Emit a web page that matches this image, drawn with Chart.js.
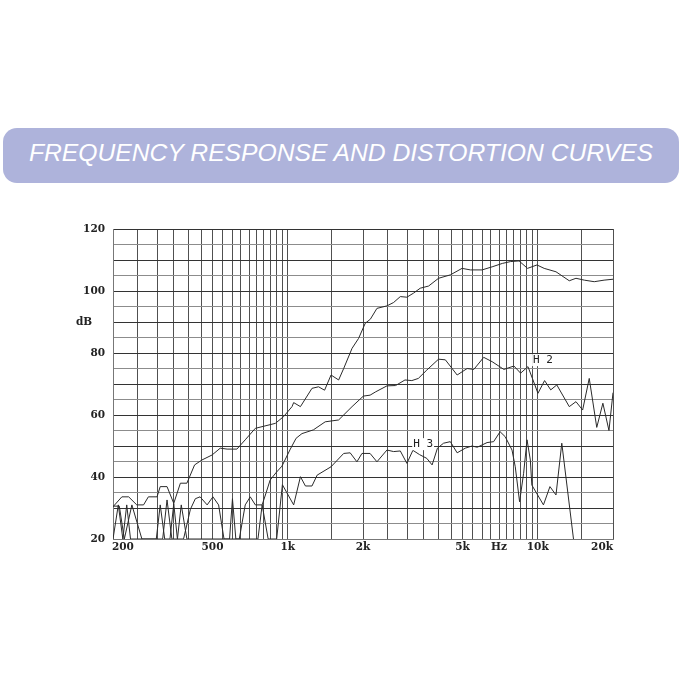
<!DOCTYPE html>
<html>
<head>
<meta charset="utf-8">
<script src="https://cdn.jsdelivr.net/npm/chart.js@4.4.0/dist/chart.umd.min.js"></script>
<style>
  html, body { margin: 0; padding: 0; background: #fff; }
  #wrap { position: relative; width: 682px; height: 682px; overflow: hidden; }
  #banner {
    position: absolute; left: 3px; top: 128px; width: 676px; height: 55px;
    background: #aeb3db; border-radius: 14px;
    color: #fff; font-family: "Liberation Sans", Arial, sans-serif; font-style: italic;
    font-size: 24.7px; line-height: 50px; text-align: center; white-space: nowrap;
  }
  canvas { position: absolute; left: 0; top: 0; }
</style>
</head>
<body>
<div id="wrap">
  <canvas id="c" width="682" height="682"></canvas>
  <div id="banner">FREQUENCY RESPONSE AND DISTORTION CURVES</div>
</div>
<script>
// ---- data ----
const frFreq = [200,217,231,249,265,277,300,309,329,350,372,395,424,454,498,537,572,626,676,742,892,963,1040,1056,1124,1250,1328,1404,1490,1598,1674,1808,1920,2042,2140,2274,2494,2652,2820,2996,3184,3388,3660,4010,4470,4980,5380,5990,6570,7220,7790,8420,9100,9930,10610,11830,13370,14220,15360,16830,18420,20000];
const frDb   = [30.4,33.6,33.6,31,31,33.6,33.6,36.9,36.9,31.5,38,38,43.9,45.5,47.1,49.3,49,49,52,55.7,57.3,59.5,62.7,64,62.7,68.6,69.1,68,72.9,71.3,75,81.5,84.7,89.6,90.9,94.4,95.2,96.3,98.2,98,99.3,100.9,101.6,104.1,105.2,107.3,106.8,106.8,107.8,108.9,109.5,109.7,107.3,108.4,107.3,106.2,103.3,104.1,103.5,103,103.5,103.8];

const h2Freq = [200,212,222,238,261,298,309,322,338,350,362,383,408,427,446,476,502,529,556,760,790,820,850,900,948,1024,1080,1140,1266,1412,1598,1808,2007,2135,2250,2494,2700,2944,3136,3330,3600,4010,4270,4760,5220,5550,6080,6570,7320,8030,8540,9140,9520,10020,10650,11270,11920,13370,14220,15120,16070,17220,18220,19270,20000];
const h2Db   = [30.6,30.6,20,31,20,20,31,20,20,31.4,20,20,29.6,33,33.6,31,33.6,31,20,20,31,35,39,41.5,43.5,49,52.5,54,55.2,57.8,58.4,62.7,66.1,66.4,67.5,69.4,69.5,71.3,71.1,71.8,74.5,78,77.8,72.9,75,74.7,78.6,77.2,74.7,75.8,73.5,75.6,71.8,67,71.1,68.1,69.7,62.7,64.3,61.6,71.8,56,63.8,55,67.2];

const h3Freq = [200,210,219,227,235,316,329,344,362,375,395,585,601,620,640,676,708,742,790,835,903,952,1056,1124,1177,1250,1311,1490,1674,1777,1891,1981,2135,2274,2494,2652,2820,2996,3167,3370,3600,3780,3970,4200,4470,4760,5130,5460,5730,6270,6660,7070,7410,7890,8130,8460,8780,9060,9340,9470,10540,11190,11830,12480,13900,14000];
const h3Db   = [20,31,20,31,20,20,32.6,20,20,31,20,20,33,20,20,31,33.6,31,31,20,20,37.5,31,40.1,37.1,37.1,40.6,43.3,47.6,47.8,44.9,47.6,47.6,44.9,48.7,48.2,48.4,44.4,48.6,47.2,46,43.9,49.3,50.9,51.4,47.8,49.3,50,49.6,51.1,51.4,54.6,53,48.7,43.3,32,41.2,52,45.5,37.4,31,36.9,34.2,50.9,20,19];

const gridFreqs = [200,250,300,350,400,450,500,550,600,650,700,750,800,850,900,950,1000,1500,2000,2500,3000,3500,4000,4500,5000,5500,6000,6500,7000,7500,8000,8500,9000,9500,10000,15000,20000];
const xLabelFreqs = [200,500,1000,2000,5000,7000,10000,20000];
const xLabelTexts = ['200','500','1k','2k','5k','Hz','10k','20k'];
const yLabelVals  = [120,100,90,80,60,40,20];
const yLabelTexts = ['120','100','dB','80','60','40','20'];
const curveNames  = ['H 2','H 3'];
const curveNameAt = [[10500,77.7],[3480,50.6]];

function pts(fs, ds){ return fs.map((f,i)=>({x:f,y:ds[i]})); }

const labelPlugin = {
  id: 'labels',
  afterDraw(chart){
    const ctx = chart.ctx, xs = chart.scales.x, ys = chart.scales.y, ca = chart.chartArea;
    ctx.save();
    ctx.fillStyle = '#222';
    ctx.font = 'bold 10.5px "DejaVu Serif"';
    ctx.textBaseline = 'middle';
    xLabelFreqs.forEach((f,i)=>{
      const px = xs.getPixelForValue(f);
      ctx.textAlign = i===0 ? 'left' : (i===xLabelFreqs.length-1 ? 'right' : 'center');
      ctx.fillText(xLabelTexts[i], i===0 ? px-1 : px, ca.bottom + 8);
    });
    yLabelVals.forEach((v,i)=>{
      const py = ys.getPixelForValue(v);
      if (yLabelTexts[i]==='dB'){ ctx.textAlign='center'; ctx.fillText('dB', ca.left-29, py); }
      else { ctx.textAlign='right'; ctx.fillText(yLabelTexts[i], ca.left-8, py); }
    });
    ctx.font = '11px "DejaVu Sans Mono"';
    curveNames.forEach((n,i)=>{
      const px = xs.getPixelForValue(curveNameAt[i][0]);
      const py = ys.getPixelForValue(curveNameAt[i][1]);
      const w = ctx.measureText(n).width;
      ctx.fillStyle = '#fff';
      ctx.fillRect(px - w/2 - 1, py - 6, w + 2, 12);
      ctx.fillStyle = '#222';
      ctx.textAlign = 'center';
      ctx.fillText(n, px, py);
    });
    ctx.restore();
  }
};

const lineStyle = { borderColor:'#2a2a2a', borderWidth:1, pointRadius:0, tension:0, fill:false };

new Chart(document.getElementById('c'), {
  type: 'line',
  data: { datasets: [
    Object.assign({ label:'Response', data: pts(frFreq, frDb) }, lineStyle),
    Object.assign({ label:'H2', data: pts(h2Freq, h2Db) }, lineStyle),
    Object.assign({ label:'H3', data: pts(h3Freq, h3Db) }, lineStyle)
  ]},
  options: {
    responsive: false, animation: false, devicePixelRatio: 1,
    layout: { padding: { left: 0, right: 69, top: 229, bottom: 143 } },
    plugins: { legend: { display:false }, tooltip: { enabled:false } },
    scales: {
      x: {
        type: 'logarithmic', min: 200, max: 20000,
        afterBuildTicks(scale){ scale.ticks = gridFreqs.map(v=>({value:v})); },
        afterFit(scale){ scale.height = 0; },
        ticks: { display:false },
        grid: { drawTicks:false, color: '#505050', lineWidth: 1 },
        border: { color:'#777' }
      },
      y: {
        min: 20, max: 120,
        ticks: { display:false, stepSize: 5 },
        afterFit(scale){ scale.width = 113; },
        grid: { drawTicks:false, lineWidth:1,
          color: (c)=> (c.tick && c.tick.value % 10 === 0) ? '#333333' : '#8c8c8c' },
        border: { color:'#777' }
      }
    }
  },
  plugins: [labelPlugin]
});
</script>
</body>
</html>
